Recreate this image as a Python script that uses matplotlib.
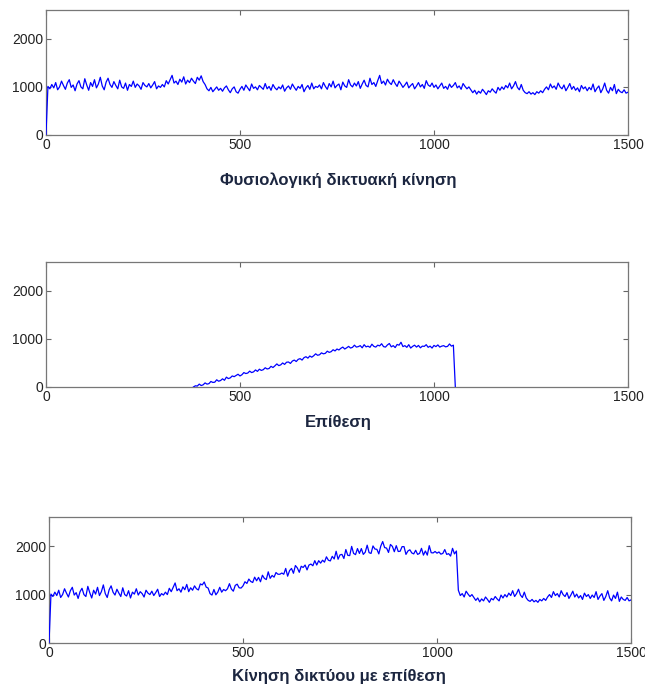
import matplotlib
matplotlib.use('agg')
import matplotlib.pyplot as plt
import numpy as np

# sample index, one reading every 5 time steps
t = np.arange(0, 1505, 5)

# normal network traffic (packets per step)
normal = [
    0, 1010, 960, 1050, 980, 1090, 940, 1000, 1120, 1030, 950, 1080, 1150, 990, 1040, 920, 1060, 1130, 1000, 960,
    1170, 1040, 930, 1090, 1010, 1150, 980, 1060, 1200, 1020, 940, 1100, 1180, 1050, 990, 1110, 1030, 960, 1140, 1000,
    970, 1080, 930, 1050, 1010, 1120, 990, 1060, 1020, 950, 1090, 1030, 1000, 1070, 980, 1040, 1110, 960, 1020, 990,
    1050, 1000, 1130, 1060, 1150, 1240, 1080, 1120, 1050, 1160, 1100, 1210, 1060, 1140, 1090, 1180, 1120, 1070, 1200, 1140,
    1230, 1110, 1050, 960, 920, 990, 900, 950, 1000, 930, 970, 910, 980, 1020, 940, 880, 960, 1000, 900, 870,
    950, 1010, 930, 1040, 980, 920, 1060, 970, 1000, 940, 1030, 990, 950, 1070, 960, 1010, 930, 1050, 980, 940,
    1000, 960, 1040, 910, 980, 1020, 950, 1060, 990, 930, 1010, 970, 1050, 900, 980, 1030, 950, 1080, 960, 1010,
    990, 1040, 960, 1090, 1010, 950, 1070, 1000, 1120, 980, 1030, 1060, 940, 1100, 1020, 990, 1150, 1040, 1000, 1080,
    1020, 1110, 970, 1060, 1140, 1030, 1000, 1180, 1050, 1090, 1010, 1130, 1240, 1070, 1120, 1040, 1160, 1090, 1050, 1150,
    1070, 1010, 1120, 1060, 990, 1040, 1100, 980, 1030, 1070, 960, 1020, 1090, 1000, 1050, 970, 1130, 1040, 1010, 1080,
    990, 1040, 960, 1020, 1080, 970, 1010, 950, 1060, 990, 1030, 1090, 980, 1020, 950, 1070, 1010, 960, 1000, 940,
    880, 930, 850, 910, 870, 950, 900, 840, 920, 890, 960, 910, 870, 990, 930, 1000, 950, 1030, 980, 1080,
    960, 1020, 1110, 990, 940, 1050, 930, 880, 860, 900, 850, 880, 840, 900, 870, 920, 880, 950, 1000, 940,
    1060, 980, 1020, 950, 1080, 1000, 960, 1040, 920, 990, 1070, 950, 1010, 930, 980, 900, 1030, 960, 1000, 920,
    990, 940, 1060, 900, 970, 1020, 880, 960, 1080, 930, 870, 990, 920, 1050, 860, 950, 900, 880, 940, 870,
    890,
]

# attack traffic, active from step 380 to step 1050
attack_start = 380
attack_end = 1050
attack_vals = [
    0, 25, 20, 60, 30, 45, 85, 60, 70, 115, 95, 100, 150, 120, 135, 170, 140, 205, 175, 190,
    230, 215, 240, 265, 230, 255, 300, 280, 290, 330, 300, 315, 355, 325, 370, 345, 360, 400, 375, 385,
    430, 405, 440, 480, 445, 460, 500, 470, 515, 520, 490, 540, 560, 530, 575, 590, 560, 610, 630, 600,
    645, 620, 650, 690, 660, 670, 710, 690, 700, 745, 720, 735, 775, 750, 790, 770, 805, 830, 790, 815,
    845, 810, 825, 870, 830, 840, 860, 815, 880, 835, 850, 825, 890, 845, 830, 870, 855, 900, 840, 830,
    875, 905, 835, 860, 820, 885, 870, 930, 840, 860, 825, 880, 810, 845, 870, 830, 865, 815, 850, 845,
    880, 825, 850, 810, 865, 840, 875, 830, 850, 860, 835, 845, 895, 850, 870,
]

titles = ['Φυσιολογική δικτυακή κίνηση', 'Επίθεση', 'Κίνηση δικτύου με επίθεση']

normal = np.array(normal, dtype=float)
attack = np.zeros_like(normal)
i0 = attack_start // 5
attack[i0:i0 + len(attack_vals)] = attack_vals
combined = normal + attack

# attack panel only shows the active part plus the drop back to zero
amask = (t >= attack_start) & (t <= attack_end + 5)

plt.rcParams['font.family'] = ['Liberation Sans', 'DejaVu Sans']

fig = plt.figure(figsize=(6.45, 6.88), dpi=100)

boxes = [
    [0.0713, 0.8038, 0.9023, 0.1817],
    [0.0713, 0.4375, 0.9023, 0.1817],
    [0.0760, 0.0654, 0.9023, 0.1830],
]
series = [(t, normal), (t[amask], attack[amask]), (t, combined)]
title_y = [1 - 180 / 688, 1 - 423 / 688, 1 - 677 / 688]

for box, (x, y), title, ty in zip(boxes, series, titles, title_y):
    ax = fig.add_axes(box)
    ax.plot(x, y, color='#0000ff', lw=0.9, zorder=3)
    ax.set_xlim(0, 1500)
    ax.set_ylim(0, 2600)
    ax.set_xticks([0, 500, 1000, 1500])
    ax.set_yticks([0, 1000, 2000])
    ax.tick_params(direction='in', length=3.5, width=0.8, color='#666666',
                   labelsize=10, labelcolor='#222222', top=True, right=True, pad=2)
    for s in ax.spines.values():
        s.set_color('#777777')
        s.set_linewidth(0.9)
    fig.text(0.525, ty, title, ha='center', va='center', fontsize=12,
             fontweight='bold', color='#1c2640')

fig.savefig('out.png', dpi=100)
plt.close(fig)
